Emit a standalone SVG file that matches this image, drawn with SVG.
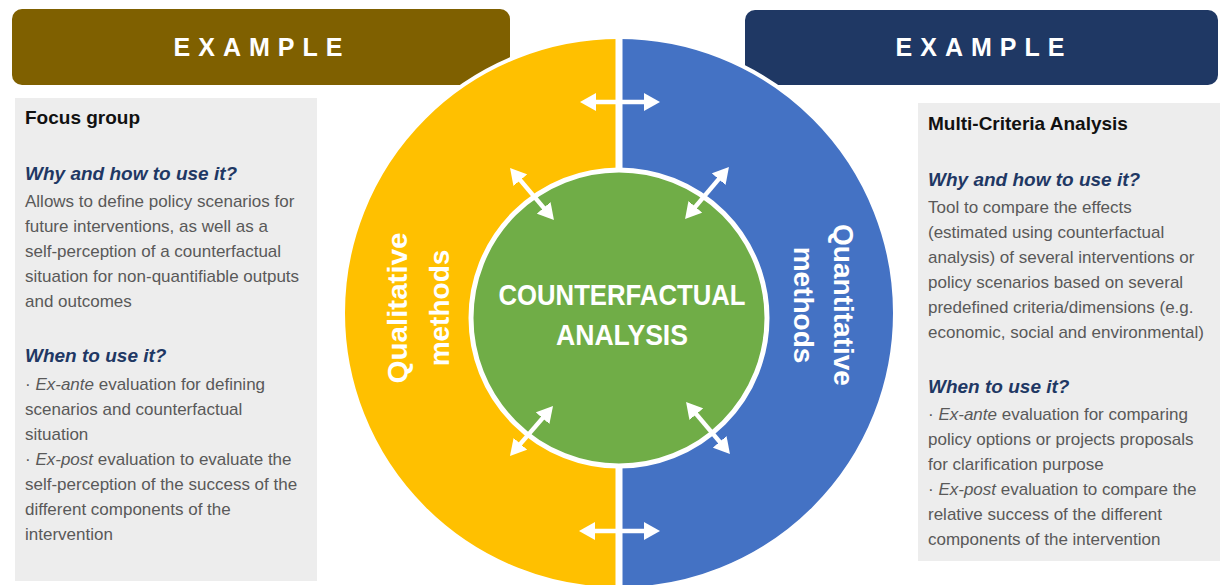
<svg xmlns="http://www.w3.org/2000/svg" width="1220" height="585" viewBox="0 0 1220 585">
<style>
.hdr{font-family:"Liberation Sans",Arial,sans-serif;font-weight:bold;font-size:25px;fill:#fff;letter-spacing:8px;text-anchor:middle}
.ttl{font-family:"Liberation Sans",Arial,sans-serif;font-weight:bold;font-size:19px;fill:#111}
.q{font-family:"Liberation Sans",Arial,sans-serif;font-weight:bold;font-style:italic;font-size:19px;fill:#1F3864}
.b{font-family:"Liberation Sans",Arial,sans-serif;font-size:17px;fill:#595959}
.i{font-style:italic}
.lbl{font-family:"Liberation Sans",Arial,sans-serif;font-weight:bold;font-size:28px;fill:#fff;text-anchor:middle}
.ctr{font-family:"Liberation Sans",Arial,sans-serif;font-weight:bold;font-size:30px;fill:#fff;text-anchor:middle}
.arr{stroke:#fff;stroke-width:4.5;fill:none;marker-start:url(#ah);marker-end:url(#ah)}
</style>
<defs>
<marker id="ah" viewBox="0 0 16 18" refX="8" refY="9" markerWidth="16" markerHeight="18" markerUnits="userSpaceOnUse" orient="auto-start-reverse">
<path d="M0,0 L16,9 L0,18 Z" fill="#fff"/>
</marker>
</defs>
<rect width="1220" height="585" fill="#fff"/>

<g id="header-left">
<rect x="12" y="9" width="498" height="76" rx="10" fill="#7F6000"/>
<text class="hdr" x="262" y="56">EXAMPLE</text>
</g>
<g id="header-right">
<rect x="745" y="10" width="473" height="75" rx="10" fill="#1F3864"/>
<text class="hdr" x="984" y="56">EXAMPLE</text>
</g>

<g id="qualitative">
<path d="M619,37 A276,276 0 0,0 619,589 Z" fill="#FFC000"/>
</g>
<g id="quantitative">
<path d="M619,37 A276,276 0 0,1 619,589 Z" fill="#4472C4"/>
</g>
<circle cx="619" cy="313" r="276" fill="none" stroke="#fff" stroke-width="4"/>
<line x1="619" y1="37" x2="619" y2="589" stroke="#fff" stroke-width="7"/>

<g id="counterfactual">
<circle cx="619" cy="318" r="148" fill="#70AD47" stroke="#fff" stroke-width="5"/>
<text class="ctr" x="622" y="305" textLength="247" lengthAdjust="spacingAndGlyphs">COUNTERFACTUAL</text>
<text class="ctr" x="622" y="345" textLength="132" lengthAdjust="spacingAndGlyphs">ANALYSIS</text>
</g>

<g id="labels">
<text class="lbl" transform="translate(407,308) rotate(-90)" textLength="151" lengthAdjust="spacingAndGlyphs">Qualitative</text>
<text class="lbl" transform="translate(449,308) rotate(-90)">methods</text>
<text class="lbl" transform="translate(834,305) rotate(90)">Quantitative</text>
<text class="lbl" transform="translate(794,305) rotate(90)">methods</text>
</g>

<g id="connectors">
<line class="arr" x1="588" y1="102" x2="652" y2="102"/>
<line class="arr" x1="587" y1="531" x2="652" y2="531"/>
<line class="arr" x1="515.2" y1="174.1" x2="548.8" y2="213.9"/>
<line class="arr" x1="723.8" y1="173.1" x2="690.2" y2="212.9"/>
<line class="arr" x1="515.2" y1="449.9" x2="547.8" y2="412.1"/>
<line class="arr" x1="691.2" y1="408.1" x2="724.8" y2="447.9"/>
</g>

<g id="box-left">
<rect x="15" y="98" width="302" height="483" fill="#EDEDED"/>
<text class="ttl" x="25" y="124">Focus group</text>
<text class="q" x="25" y="180">Why and how to use it?</text>
<text class="b" x="25" y="207">Allows to define policy scenarios for</text>
<text class="b" x="25" y="232">future interventions, as well as a</text>
<text class="b" x="25" y="257">self-perception of a counterfactual</text>
<text class="b" x="25" y="282">situation for non-quantifiable outputs</text>
<text class="b" x="25" y="307">and outcomes</text>
<text class="q" x="25" y="362">When to use it?</text>
<text class="b" x="25" y="390">· <tspan class="i">Ex-ante</tspan> evaluation for defining</text>
<text class="b" x="25" y="415">scenarios and counterfactual</text>
<text class="b" x="25" y="440">situation</text>
<text class="b" x="25" y="465">· <tspan class="i">Ex-post</tspan> evaluation to evaluate the</text>
<text class="b" x="25" y="490">self-perception of the success of the</text>
<text class="b" x="25" y="515">different components of the</text>
<text class="b" x="25" y="540">intervention</text>
</g>

<g id="box-right">
<rect x="918" y="103" width="302" height="458" fill="#EDEDED"/>
<text class="ttl" x="928" y="130">Multi-Criteria Analysis</text>
<text class="q" x="928" y="186">Why and how to use it?</text>
<text class="b" x="928" y="213">Tool to compare the effects</text>
<text class="b" x="928" y="238">(estimated using counterfactual</text>
<text class="b" x="928" y="263">analysis) of several interventions or</text>
<text class="b" x="928" y="288">policy scenarios based on several</text>
<text class="b" x="928" y="313">predefined criteria/dimensions (e.g.</text>
<text class="b" x="928" y="338">economic, social and environmental)</text>
<text class="q" x="928" y="393">When to use it?</text>
<text class="b" x="928" y="420">· <tspan class="i">Ex-ante</tspan> evaluation for comparing</text>
<text class="b" x="928" y="445">policy options or projects proposals</text>
<text class="b" x="928" y="470">for clarification purpose</text>
<text class="b" x="928" y="495">· <tspan class="i">Ex-post</tspan> evaluation to compare the</text>
<text class="b" x="928" y="520">relative success of the different</text>
<text class="b" x="928" y="545">components of the intervention</text>
</g>
</svg>
